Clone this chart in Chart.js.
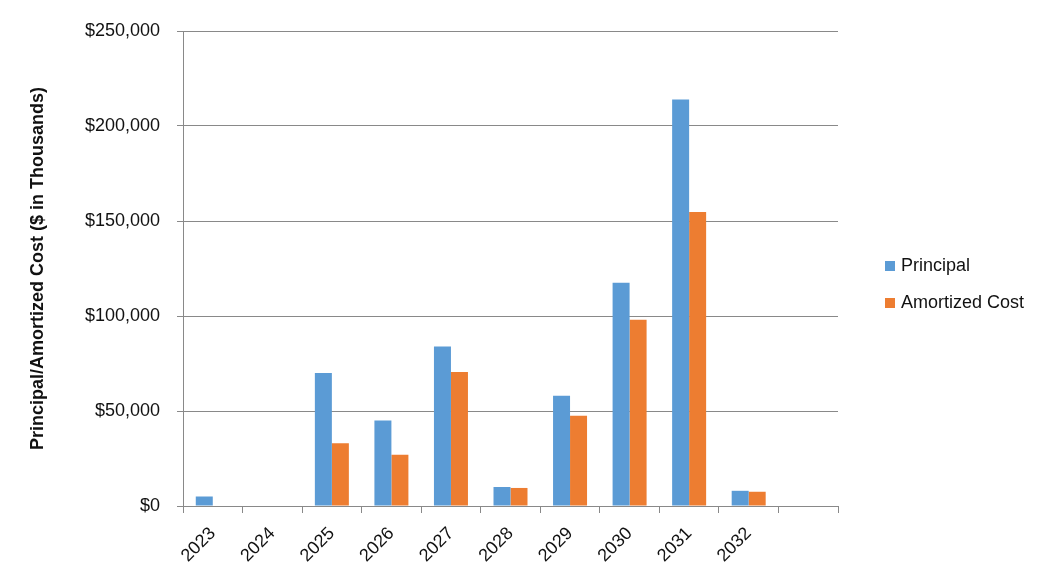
<!DOCTYPE html>
<html><head><meta charset="utf-8">
<script src="https://cdn.jsdelivr.net/npm/chart.js@4.4.1/dist/chart.umd.min.js"></script>
<style>html,body{margin:0;padding:0;background:#fff}</style></head>
<body>
<canvas id="c" width="1058" height="571"></canvas>
<script>
const categories = ['2023','2024','2025','2026','2027','2028','2029','2030','2031','2032',''];
const principal = [5000, null, 70000, 45000, 84000, 10000, 58000, 117500, 214000, 8000, null];
const amortizedCost = [null, null, 33000, 27000, 70500, 9500, 47500, 98000, 154700, 7500, null];
const yTickValues = [0, 50000, 100000, 150000, 200000, 250000];
const seriesNames = ['Principal', 'Amortized Cost'];
const yTitle = 'Principal/Amortized Cost ($ in Thousands)';

const FONT = '"Liberation Sans", Arial, sans-serif';
const GRID = '#898989';
const TXT = '#111';

// Legend drawn beside the plot from the chart's own datasets
const sideLegend = {
  id: 'sideLegend',
  afterDraw(chart, args, opts) {
    const ctx = chart.ctx;
    ctx.save();
    ctx.font = '18px ' + FONT;
    ctx.textBaseline = 'middle';
    ctx.textAlign = 'left';
    chart.data.datasets.forEach((ds, i) => {
      const cy = opts.y + i * opts.gap;
      ctx.fillStyle = ds.backgroundColor;
      ctx.fillRect(opts.x, cy - 5, 10, 10);
      ctx.fillStyle = TXT;
      ctx.fillText(ds.label, opts.x + 16, cy);
    });
    ctx.restore();
  }
};

new Chart(document.getElementById('c'), {
  type: 'bar',
  data: {
    labels: categories,
    datasets: [
      { label: seriesNames[0], data: principal, backgroundColor: '#5B9BD5', categoryPercentage: 0.571, barPercentage: 1.0 },
      { label: seriesNames[1], data: amortizedCost, backgroundColor: '#ED7D31', categoryPercentage: 0.571, barPercentage: 1.0 }
    ]
  },
  plugins: [sideLegend],
  options: {
    responsive: false,
    animation: false,
    devicePixelRatio: 1,
    layout: { padding: { top: 31, right: 220, bottom: 0, left: 11 } },
    plugins: {
      legend: { display: false },
      tooltip: { enabled: false },
      title: { display: false },
      sideLegend: { x: 885, y: 266, gap: 37 }
    },
    scales: {
      x: {
        grid: { display: true, drawOnChartArea: false, drawTicks: true, tickLength: 7, color: GRID, offset: true },
        border: { display: true, color: GRID },
        ticks: { color: TXT, font: { family: FONT, size: 18 }, maxRotation: 45, minRotation: 45, padding: 10, autoSkip: false },
        afterFit(s) { s.height = 65; }
      },
      y: {
        min: 0, max: 250000,
        afterBuildTicks(s) { s.ticks = yTickValues.map(v => ({ value: v })); },
        grid: { color: GRID, tickLength: 6, drawTicks: true },
        border: { display: true, color: GRID },
        ticks: { color: TXT, font: { family: FONT, size: 18 }, padding: 17,
          callback: v => '$' + Number(v).toLocaleString('en-US') },
        title: { display: true, text: yTitle, color: TXT, font: { family: FONT, size: 18, weight: 'bold' }, padding: { top: 16, bottom: 37 } },
        afterFit(s) { s.width = 172; }
      }
    }
  }
});
</script>
</body></html>
